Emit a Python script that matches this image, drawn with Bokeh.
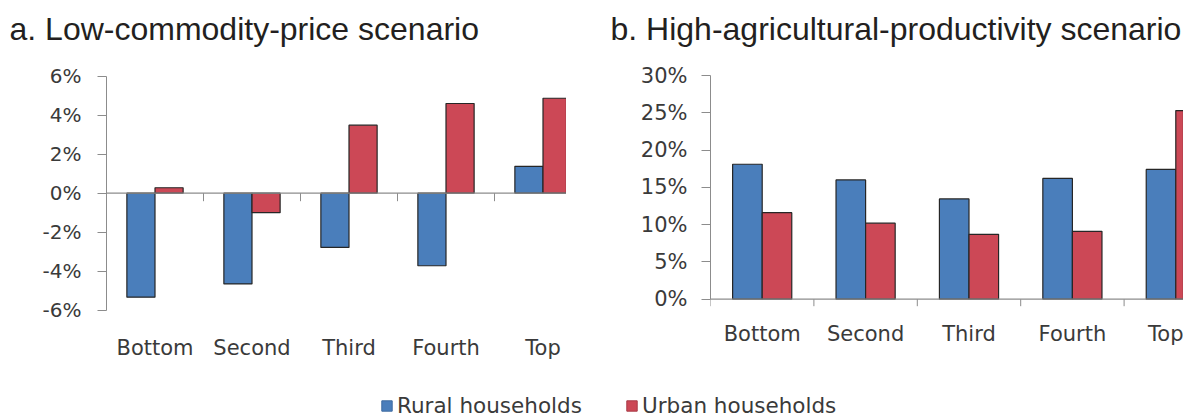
from bokeh.plotting import figure
from bokeh.models import (Range1d, FixedTicker, PrintfTickFormatter, Span, Title,
                          Legend, LegendItem)
from bokeh.layouts import row, column
from bokeh.embed import file_html
from bokeh.resources import INLINE

# ---------------- data ----------------
categories = ["Bottom", "Second", "Third", "Fourth", "Top"]
series_names = ["Rural households", "Urban households"]

low_price_rural = [-5.33, -4.65, -2.78, -3.72, 1.38]
low_price_urban = [0.28, -1.0, 3.49, 4.6, 4.87]

high_prod_rural = [18.1, 16.0, 13.45, 16.2, 17.4]
high_prod_urban = [11.6, 10.2, 8.7, 9.1, 25.3]

low_price_ticks = [-6, -4, -2, 0, 2, 4, 6]
high_prod_ticks = [0, 5, 10, 15, 20, 25, 30]

panel_titles = ["a. Low-commodity-price scenario",
                "b. High-agricultural-productivity scenario"]

# ---------------- style / layout ----------------
RURAL = "#4a7ebb"
URBAN = "#cc4856"
EDGE = "#262626"
AXIS = "#8c8c8c"
TEXT = "#3a3a3a"
LABEL_FONT = "DejaVu Sans"
TITLE_FONT = "Liberation Sans"

WIDTH_A = 566
WIDTH_B = 617
STRIP_H = 62          # title strip height
STRIP_FRAME_TOP = 51  # controls the vertical position of the titles
ROW_H = 318           # chart row height
LEG_H = 418 - STRIP_H - ROW_H
FRAME_TOP = 75 - STRIP_H
FRAME_BOTTOM = 310 - STRIP_H


def title_strip(text, width, offset):
    s = figure(width=width, height=STRIP_H, toolbar_location=None, output_backend="svg",
               x_axis_location=None, y_axis_location=None, min_border_left=0,
               min_border_right=0, min_border_top=STRIP_FRAME_TOP,
               min_border_bottom=STRIP_H - STRIP_FRAME_TOP - 1,
               outline_line_color=None, x_range=Range1d(0, 1), y_range=Range1d(0, 1))
    s.grid.visible = False
    s.title = Title(text=text, align="left", offset=offset, text_font=TITLE_FONT,
                    text_font_size="32px", text_font_style="normal",
                    text_color="#231f20")
    return s


def make_panel(rural, urban, yticks, width, b_left, x_end, y_start, y_end,
               px_per_unit, bar_w, label_standoff, ytick_standoff,
               ytick_size, bound_ticks, tick_px):
    n = len(categories)
    centers = [i + 0.5 for i in range(n)]
    p = figure(width=width, height=ROW_H, toolbar_location=None, output_backend="svg",
               x_range=Range1d(0, x_end), y_range=Range1d(y_start, y_end),
               min_border_left=b_left, min_border_right=0, min_border_top=FRAME_TOP,
               min_border_bottom=ROW_H - FRAME_BOTTOM, outline_line_color=None)
    p.grid.visible = False

    p.vbar(x=[c - bar_w / 2 for c in centers], top=rural, bottom=0, width=bar_w,
           fill_color=RURAL, line_color=EDGE, line_width=1.2)
    p.vbar(x=[c + bar_w / 2 for c in centers], top=urban, bottom=0, width=bar_w,
           fill_color=URBAN, line_color=EDGE, line_width=1.2)

    # y axis
    ya = p.yaxis[0]
    ya.ticker = FixedTicker(ticks=yticks)
    ya.bounds = (min(yticks), max(yticks))
    ya.formatter = PrintfTickFormatter(format="%d%%")
    ya.axis_line_color = AXIS
    ya.major_tick_line_color = AXIS
    ya.major_tick_out = 9
    ya.major_tick_in = 0
    ya.minor_tick_line_color = None
    ya.major_label_standoff = ytick_standoff
    ya.major_label_text_font = LABEL_FONT
    ya.major_label_text_font_size = ytick_size
    ya.major_label_text_color = TEXT

    # x axis: category labels only
    xa = p.xaxis[0]
    xa.ticker = FixedTicker(ticks=centers)
    xa.major_label_overrides = {c: name for c, name in zip(centers, categories)}
    xa.axis_line_color = None
    xa.major_tick_line_color = None
    xa.minor_tick_line_color = None
    xa.major_tick_out = 0
    xa.major_tick_in = 0
    xa.major_label_standoff = label_standoff
    xa.major_label_text_font = LABEL_FONT
    xa.major_label_text_font_size = "21px"
    xa.major_label_text_color = TEXT

    # zero line with category-boundary ticks
    p.add_layout(Span(location=0, dimension="width", line_color=AXIS, line_width=1.2))
    tick_len = tick_px / px_per_unit
    p.segment(x0=bound_ticks, y0=[0] * len(bound_ticks), x1=bound_ticks,
              y1=[-tick_len] * len(bound_ticks), line_color=AXIS, line_width=1)
    return p


n_cat = len(categories)

# panel a: 19.5 px per percentage point, 6% at y=75.7, -6% at y=309.7 (page px)
pxa = 19.5
pa = make_panel(low_price_rural, low_price_urban, low_price_ticks,
                width=WIDTH_A, b_left=106, x_end=460 / 97.0,
                y_start=-6 - (310 - 309.7) / pxa, y_end=6 + (75.7 - 75) / pxa,
                px_per_unit=pxa, bar_w=0.29, label_standoff=25, ytick_standoff=16,
                ytick_size="20px", bound_ticks=list(range(1, n_cat)), tick_px=8)

# panel b: 0% at y=298.7, 30% at y=75 (page px)
pxb = (298.7 - 75) / 30.0
pb = make_panel(high_prod_rural, high_prod_urban, high_prod_ticks,
                width=WIDTH_B, b_left=144, x_end=473 / 103.4,
                y_start=-(310 - 298.7) / pxb, y_end=30, px_per_unit=pxb,
                bar_w=0.286, label_standoff=11, ytick_standoff=14,
                ytick_size="21px", bound_ticks=list(range(0, n_cat + 1)), tick_px=7)

ta = title_strip(panel_titles[0], WIDTH_A, 9)
tb = title_strip(panel_titles[1], WIDTH_B, 44)

# legend strip (legend swatches come from off-screen proxy renderers)
lf = figure(width=WIDTH_A + WIDTH_B, height=LEG_H, toolbar_location=None,
            output_backend="svg", x_axis_location=None, y_axis_location=None,
            min_border=0, outline_line_color=None, x_range=Range1d(0, 1),
            y_range=Range1d(0, 1))
lf.grid.visible = False
r1 = lf.vbar(x=[50], top=[60], bottom=[50], width=1, fill_color=RURAL,
             line_color="#3d6aa0", line_width=1)
r2 = lf.vbar(x=[50], top=[60], bottom=[50], width=1, fill_color=URBAN,
             line_color="#a83a46", line_width=1)
for r, name, xpos in [(r1, series_names[0], 380), (r2, series_names[1], 625)]:
    leg = Legend(items=[LegendItem(label=name, renderers=[r])], location=(xpos, 0),
                 orientation="horizontal", padding=0, margin=0, border_line_color=None,
                 background_fill_alpha=0, glyph_width=13, glyph_height=13,
                 label_standoff=4, label_text_font=LABEL_FONT,
                 label_text_font_size="21.5px", label_text_color=TEXT)
    lf.add_layout(leg)

layout = column(row(ta, tb), row(pa, pb), lf)
open("out.html", "w").write(file_html(layout, INLINE))
